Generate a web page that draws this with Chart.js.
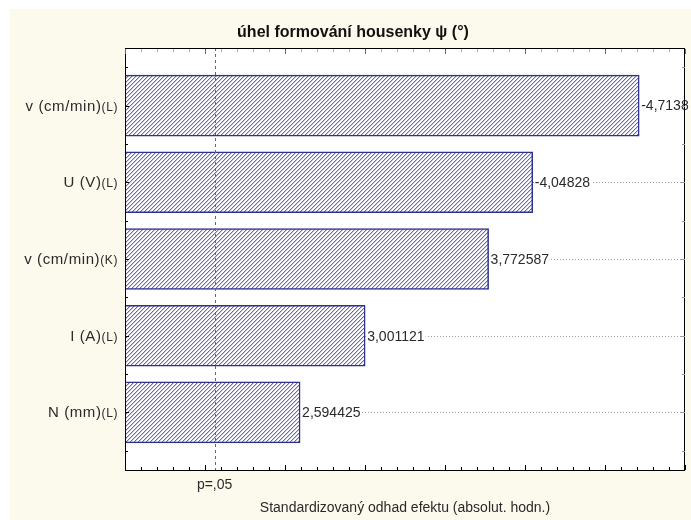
<!DOCTYPE html>
<html>
<head>
<meta charset="utf-8">
<script src="https://cdn.jsdelivr.net/npm/chart.js@4/dist/chart.umd.min.js"></script>
<style>
  html, body { margin: 0; padding: 0; background: #ffffff; }
  canvas { display: block; }
</style>
</head>
<body>
<canvas id="pareto" width="691" height="520"></canvas>
<script>
// Pareto chart of standardized effects
const chartTitle = 'úhel formování housenky ψ (°)';
const axisTitle = 'Standardizovaný odhad efektu (absolut. hodn.)';
const terms = ['v (cm/min)', 'U (V)', 'v (cm/min)', 'I (A)', 'N (mm)'];
const termKinds = ['(L)', '(L)', '(K)', '(L)', '(L)'];
const effects = [-4.7138, -4.04828, 3.772587, 3.001121, 2.594425];
const pCritical = 2.06;
const pLabel = 'p=,05';
const xMajorTicks = [1.5, 2, 2.5, 3, 3.5, 4, 4.5, 5];
const yTicks = [-0.5, 0, 0.5, 1, 1.5, 2, 2.5, 3, 3.5, 4, 4.5];

const FONT = '"Liberation Sans", Arial, sans-serif';
const CREAM = '#fcf9ed';

// crisp diagonal hatch fill for the bars
function makeHatch() {
  const n = 4;
  const c = document.createElement('canvas');
  c.width = n; c.height = n;
  const g = c.getContext('2d');
  g.fillStyle = '#ffffff';
  g.fillRect(0, 0, n, n);
  for (let y = 0; y < n; y++) {
    const x0 = (n - 1 - y + n) % n;
    g.fillStyle = '#6a6ca4';
    g.fillRect(x0, y, 1, 1);
    g.fillStyle = '#cacbe0';
    g.fillRect((x0 + 1) % n, y, 1, 1);
  }
  return g.createPattern(c, 'repeat');
}

function fmt(v) { return String(v).replace('.', ','); }

const decor = {
  id: 'decor',
  beforeDraw(chart) {
    const { ctx, chartArea: a, width, height } = chart;
    const ys = chart.scales.y;
    ctx.save();
    ctx.fillStyle = '#ffffff';
    ctx.fillRect(0, 0, width, height);
    ctx.fillStyle = CREAM;
    ctx.fillRect(10, 9, width - 10, height - 9);
    ctx.fillStyle = '#ffffff';
    ctx.fillRect(a.left, a.top, a.right - a.left, a.bottom - a.top);
    // dotted guide lines through each term
    ctx.strokeStyle = '#a0a0a0';
    ctx.lineWidth = 1;
    ctx.setLineDash([1, 2]);
    effects.forEach((v, i) => {
      const y = Math.round(ys.getPixelForValue(i)) + 0.5;
      ctx.beginPath();
      ctx.moveTo(a.left, y);
      ctx.lineTo(a.right, y);
      ctx.stroke();
    });
    ctx.restore();
  },
  afterDatasetsDraw(chart) {
    const { ctx, chartArea: a } = chart;
    const xs = chart.scales.x, ys = chart.scales.y;
    ctx.save();

    // significance threshold
    const px = Math.round(xs.getPixelForValue(pCritical)) + 0.5;
    ctx.strokeStyle = '#d0306c';
    ctx.lineWidth = 1;
    ctx.setLineDash([3, 3]);
    ctx.beginPath();
    ctx.moveTo(px, a.top);
    ctx.lineTo(px, a.bottom);
    ctx.stroke();
    ctx.setLineDash([]);

    // value labels at bar ends
    ctx.font = '14px ' + FONT;
    ctx.textBaseline = 'middle';
    ctx.textAlign = 'left';
    effects.forEach((v, i) => {
      const x = xs.getPixelForValue(Math.abs(v)) + 2;
      const y = ys.getPixelForValue(i);
      const t = fmt(v);
      const w = ctx.measureText(t).width;
      ctx.fillStyle = '#ffffff';
      ctx.fillRect(x, y - 4, w + 1, 8);
      ctx.fillStyle = '#2a2a2a';
      ctx.fillText(t, x, y + 1);
    });

    // frame
    ctx.strokeStyle = '#000000';
    ctx.lineWidth = 1;
    ctx.strokeRect(a.left + 0.5, a.top + 0.5, a.right - a.left - 1, a.bottom - a.top);

    // tick marks pointing into the plot
    for (let k = 0; k <= 35; k++) {
      const v = 1.5 + k * 0.1;
      const major = xMajorTicks.some(m => Math.abs(m - v) < 1e-6);
      const x = Math.round(xs.getPixelForValue(v)) + 0.5;
      const len = major ? 5 : 3;
      ctx.strokeStyle = '#000000';
      ctx.beginPath();
      ctx.moveTo(x, a.bottom); ctx.lineTo(x, a.bottom - len);
      ctx.stroke();
      ctx.strokeStyle = major ? '#666666' : '#b0b0b0';
      ctx.beginPath();
      ctx.moveTo(x, a.top + 1); ctx.lineTo(x, a.top + 1 + len);
      ctx.stroke();
    }
    yTicks.forEach(v => {
      const y = Math.round(ys.getPixelForValue(v)) + 0.5;
      const len = Number.isInteger(v) ? 4 : 3;
      ctx.strokeStyle = '#000000';
      ctx.beginPath();
      ctx.moveTo(a.left, y); ctx.lineTo(a.left + len, y);
      ctx.stroke();
      ctx.strokeStyle = '#9a9a9a';
      ctx.beginPath();
      ctx.moveTo(a.right, y); ctx.lineTo(a.right - len, y);
      ctx.stroke();
    });

    // term names with their kind suffix in a smaller size
    ctx.fillStyle = '#2a2a2a';
    ctx.textBaseline = 'alphabetic';
    ctx.textAlign = 'left';
    ctx.letterSpacing = '0.6px';
    terms.forEach((name, i) => {
      const y = ys.getPixelForValue(i) + 5;
      ctx.font = '12px ' + FONT;
      const ws = ctx.measureText(termKinds[i]).width;
      ctx.font = '15px ' + FONT;
      const wn = ctx.measureText(name).width;
      const right = a.left - 7;
      ctx.fillText(name, right - ws - wn, y);
      ctx.font = '12px ' + FONT;
      ctx.fillText(termKinds[i], right - ws, y);
    });
    ctx.letterSpacing = '0px';

    // threshold label and axis title
    ctx.textAlign = 'center';
    ctx.textBaseline = 'middle';
    ctx.font = '14px ' + FONT;
    ctx.fillText(pLabel, xs.getPixelForValue(pCritical), 485);
    ctx.font = '14px ' + FONT;
    ctx.fillText(axisTitle, (a.left + a.right) / 2, 508);

    // chart title
    ctx.fillStyle = '#111111';
    ctx.font = 'bold 16px ' + FONT;
    ctx.fillText(chartTitle, 353, 33);
    ctx.restore();
  }
};

new Chart(document.getElementById('pareto'), {
  type: 'bar',
  data: {
    datasets: [{
      data: effects.map((v, i) => ({ x: Math.abs(v), y: i })),
      backgroundColor: makeHatch(),
      borderColor: '#2e3190',
      borderWidth: 1.5,
      borderSkipped: 'start',
      barThickness: 61
    }]
  },
  options: {
    indexAxis: 'y',
    responsive: false,
    animation: false,
    devicePixelRatio: 1,
    layout: { padding: { left: 125, right: 6, top: 48, bottom: 50 } },
    plugins: { legend: { display: false }, tooltip: { enabled: false }, title: { display: false } },
    scales: {
      x: { type: 'linear', min: 1.5, max: 5.0, display: false, offset: false },
      y: { type: 'linear', min: -0.75, max: 4.75, reverse: true, display: false, offset: false }
    }
  },
  plugins: [decor]
});
</script>
</body>
</html>
